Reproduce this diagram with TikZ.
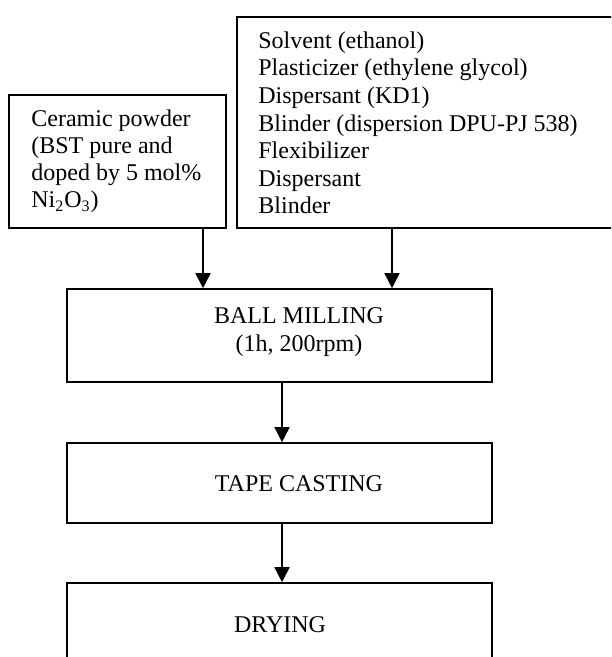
\documentclass[tikz,border=0pt]{standalone}
\usepackage{fontspec}
\setmainfont{Liberation Serif}
\usetikzlibrary{arrows.meta}
\begin{document}
\begin{tikzpicture}[x=0.5pt,y=-0.5pt,
  box/.style={draw, line width=0.8pt, inner sep=0pt},
  txt/.style={inner sep=0pt, font=\fontsize{12}{13.8}\selectfont},
  arr/.style={draw, line width=0.8pt, -{Triangle[width=7.5pt,length=7.5pt]}}]
\useasboundingbox (0,0) rectangle (611,657);
\fill[white] (0,0) rectangle (611,657);
\clip (0,0) rectangle (611,657);
% boxes
\node[box, minimum width=108.5pt, minimum height=66.5pt] (cer) at (117.5,161.5) {};
\node[box, minimum width=201.5pt, minimum height=105.5pt] (add) at (438.5,122.5) {};
\node[box, minimum width=212.5pt, minimum height=46.5pt] (ball) at (279.5,335.5) {};
\node[box, minimum width=212.5pt, minimum height=40pt] (tape) at (279.5,483) {};
\node[box, minimum width=212.5pt, minimum height=58.5pt] (dry) at (279.5,641.5) {};
% texts
\node[txt, anchor=base west, font=\fontsize{12}{13.5}\selectfont] (cerT) at (31,127) {\begin{tabular}[t]{@{}l@{}}Ceramic powder\\(BST pure and\\doped by 5 mol\%\\Ni\textsubscript{2}O\textsubscript{3})\end{tabular}};
\node[txt, anchor=base west] (addT) at (258,48.3) {\begin{tabular}[t]{@{}l@{}}Solvent (ethanol)\\Plasticizer (ethylene glycol)\\Dispersant (KD1)\\Blinder (dispersion DPU-PJ 538)\\Flexibilizer\\Dispersant\\Blinder\end{tabular}};
\node[txt, anchor=base, font=\fontsize{12}{14}\selectfont] (ballT) at (299,323) {\begin{tabular}[t]{@{}c@{}}BALL MILLING\\(1h, 200rpm)\end{tabular}};
\node[txt, anchor=base] (tapeT) at (299,491) {TAPE CASTING};
\node[txt, anchor=base] (dryT) at (280,632) {DRYING};
% connectors
\coordinate (c1) at (203,0);
\coordinate (c2) at (392,0);
\coordinate (c3) at (282,0);
\draw[arr] (cer.south -| c1) -- (ball.north -| c1);
\draw[arr] (add.south -| c2) -- (ball.north -| c2);
\draw[arr] (ball.south -| c3) -- (tape.north -| c3);
\draw[arr] (tape.south -| c3) -- (dry.north -| c3);
\end{tikzpicture}
\end{document}
